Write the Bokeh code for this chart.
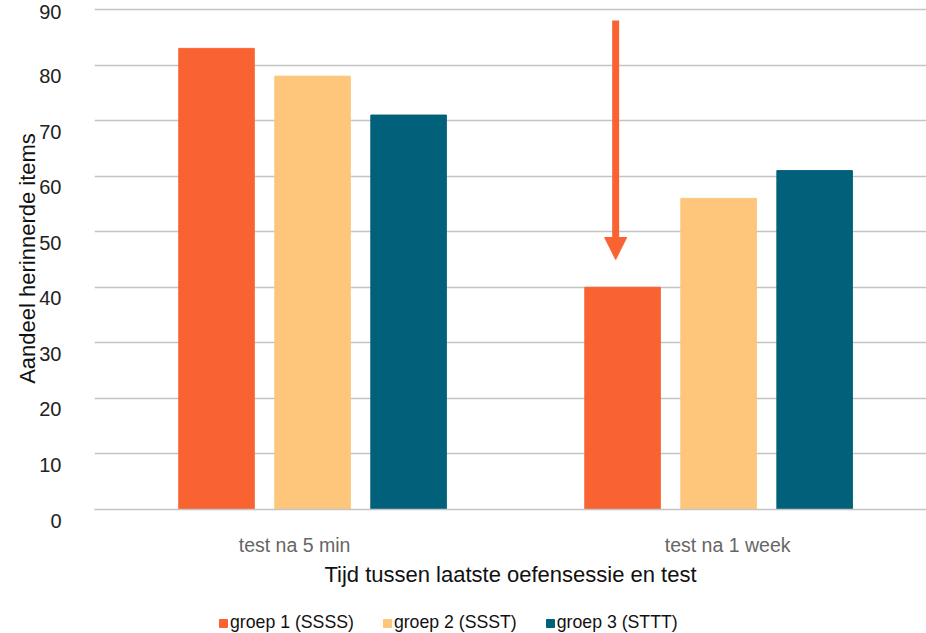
from bokeh.plotting import figure
from bokeh.layouts import column
from bokeh.models import (ColumnDataSource, FixedTicker, Range1d,
                          Legend, LegendItem, Arrow, NormalHead)
from bokeh.embed import file_html
from bokeh.resources import INLINE

# ---- data ----
categories = ["test na 5 min", "test na 1 week"]
groups = ["groep 1 (SSSS)", "groep 2 (SSST)", "groep 3 (STTT)"]
groep1 = [83, 40]
groep2 = [78, 56]
groep3 = [71, 61]
y_ticks = [0, 10, 20, 30, 40, 50, 60, 70, 80, 90]
y_tick_labels = ["0", "10", "20", "30", "40", "50", "60", "70", "80", "90"]
arrow_from = 88
arrow_to = 45

# ---- style ----
colors = ["#F96332", "#FDC67B", "#01617A"]
FONT = "Liberation Sans"
GRID = "#c4c4c4"
offsets = [-0.2365, 0.0, 0.2365]
bar_w = 0.186
label_nudge = [-0.0443, 0.0222]   # category label shift (as in the original)
arrow_nudge = -0.017

p = figure(width=926, height=590, output_backend="svg", toolbar_location=None,
           x_range=Range1d(-0.537, 1.512), y_range=Range1d(0, 90.36),
           min_border_left=94, min_border_right=0, min_border_top=7,
           min_border_bottom=81)
p.outline_line_color = None
p.background_fill_color = "white"
p.border_fill_color = "white"

cat_x = list(range(len(categories)))
all_vals = [groep1, groep2, groep3]
for gi, (vals, col) in enumerate(zip(all_vals, colors)):
    src = ColumnDataSource(dict(x=[c + offsets[gi] for c in cat_x], top=vals))
    p.vbar(x="x", top="top", width=bar_w, bottom=0, source=src,
           fill_color=col, line_color=col, line_width=1)

# grid
p.xgrid.visible = False
p.ygrid.ticker = FixedTicker(ticks=y_ticks)
p.ygrid.grid_line_color = GRID
p.ygrid.grid_line_width = 1.6

# x axis
x_ticks = [round(c + n, 4) for c, n in zip(cat_x, label_nudge)]
p.xaxis.ticker = FixedTicker(ticks=x_ticks)
p.xaxis.major_label_overrides = {t: c for t, c in zip(x_ticks, categories)}
p.xaxis.axis_line_color = GRID
p.xaxis.axis_line_width = 1.6
p.xaxis.major_tick_line_color = None
p.xaxis.minor_tick_line_color = None
p.xaxis.major_label_standoff = 18
p.xaxis.major_label_text_font = FONT
p.xaxis.major_label_text_font_size = "19.5px"
p.xaxis.major_label_text_color = "#666666"
p.xaxis.axis_label = "Tijd tussen laatste oefensessie en test"
p.xaxis.axis_label_text_font = FONT
p.xaxis.axis_label_text_font_size = "22px"
p.xaxis.axis_label_text_font_style = "normal"
p.xaxis.axis_label_text_color = "#111111"
p.xaxis.axis_label_standoff = 3

# y axis (labels sit just below their grid line, as in the original;
# the top one cannot go below without leaving the canvas, so it stays plain)
p.yaxis.ticker = FixedTicker(ticks=y_ticks)
p.yaxis.major_label_overrides = {
    t: (l if t == y_ticks[-1] else "\n" + l) for t, l in zip(y_ticks, y_tick_labels)}
p.yaxis.axis_line_color = None
p.yaxis.major_tick_line_color = None
p.yaxis.minor_tick_line_color = None
p.yaxis.major_label_standoff = 27
p.yaxis.major_label_text_font = FONT
p.yaxis.major_label_text_font_size = "20px"
p.yaxis.major_label_text_line_height = 1.0
p.yaxis.major_label_text_color = "#222222"
p.yaxis.axis_label = "Aandeel herinnerde items"
p.yaxis.axis_label_text_font = FONT
p.yaxis.axis_label_text_font_size = "22px"
p.yaxis.axis_label_text_font_style = "normal"
p.yaxis.axis_label_text_color = "#111111"
p.yaxis.axis_label_standoff = -4

# arrow
ax = cat_x[1] + offsets[0] + arrow_nudge
p.add_layout(Arrow(end=NormalHead(size=22, fill_color=colors[0], line_color=colors[0]),
                   x_start=ax, y_start=arrow_from, x_end=ax, y_end=arrow_to,
                   line_color=colors[0], line_width=7))

# legend strip underneath (bars kept out of its view, only the legend shows)
lg = figure(width=926, height=43, output_backend="svg", toolbar_location=None,
            x_range=Range1d(10, 11), y_range=Range1d(200, 201),
            min_border_left=0, min_border_right=0, min_border_top=0, min_border_bottom=0)
lg.axis.visible = False
lg.grid.visible = False
lg.outline_line_color = None
proxies = []
for gi, (vals, col) in enumerate(zip(all_vals, colors)):
    src = ColumnDataSource(dict(x=[c + offsets[gi] for c in cat_x], top=vals))
    proxies.append(lg.vbar(x="x", top="top", width=bar_w, source=src,
                           fill_color=col, line_color=col))
legend = Legend(items=[LegendItem(label=g, renderers=[r]) for g, r in zip(groups, proxies)],
                orientation="horizontal", location=(124, 0),
                glyph_width=10, glyph_height=10, label_standoff=2, spacing=28,
                padding=0, margin=0, border_line_color=None, background_fill_alpha=0,
                label_text_font=FONT, label_text_font_size="17.7px",
                label_text_color="#111111")
lg.add_layout(legend, "center")

open("out.html", "w").write(file_html(column(p, lg, spacing=0), INLINE))
